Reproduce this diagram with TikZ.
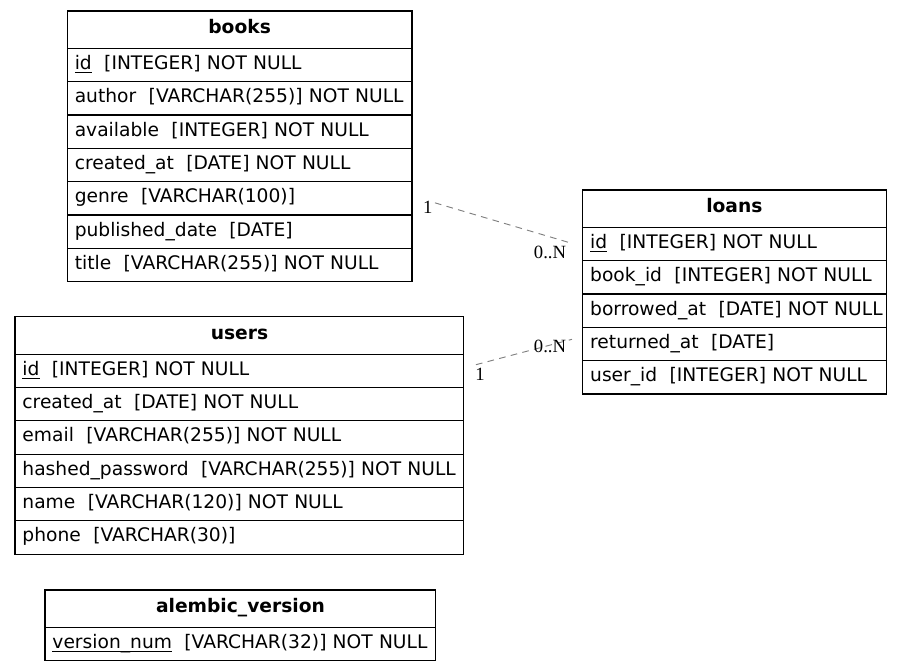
\documentclass[tikz,border=0pt]{standalone}
\usepackage{fontspec}
\setmainfont{DejaVu Sans}
\newfontfamily\cardfont{Liberation Serif}
\usepackage{tikz}
\usetikzlibrary{positioning, calc}

% primary key: underlined column name
\newcommand{\pk}[1]{\setbox0\hbox{#1}\rlap{\rule[-2.6pt]{\wd0}{0.7pt}}#1}
% one column line: name, two spaces, type
\newcommand{\fld}[2]{\mbox{#1~~#2}}

\begin{document}
\begin{tikzpicture}[x=0.75pt, y=-0.75pt,
    tbl/.style={draw=black, line width=0.8pt, text width=#1, inner xsep=5.6pt, inner ysep=0pt, outer sep=0pt,
                minimum height=25pt, text height=10pt, text depth=3.5pt, align=left,
                font=\fontsize{14}{16}\selectfont},
    hdr/.style={tbl=#1, minimum height=28pt, text depth=4.5pt, align=center, anchor=north west,
                font=\fontsize{14}{16}\selectfont\bfseries},
    rel/.style={draw=gray, dash pattern=on 5pt off 4pt, line width=0.7pt},
    card/.style={inner sep=0pt, font=\cardfont\fontsize{14}{16}\selectfont}]

    \useasboundingbox (0,0) rectangle (903,671);

    % --- TABLES ---
    % books (top left)
    \node[hdr=247.3pt] (books) at (67.3,11) {books};
    \node[tbl=247.3pt, below=0pt of books]     (books-id)    {\fld{\pk{id}}{[INTEGER] NOT NULL}};
    \node[tbl=247.3pt, below=0pt of books-id]  (books-auth)  {\fld{author}{[VARCHAR(255)] NOT NULL}};
    \node[tbl=247.3pt, below=0pt of books-auth](books-avail) {\fld{available}{[INTEGER] NOT NULL}};
    \node[tbl=247.3pt, below=0pt of books-avail](books-cre)  {\fld{created\_at}{[DATE] NOT NULL}};
    \node[tbl=247.3pt, below=0pt of books-cre] (books-genre) {\fld{genre}{[VARCHAR(100)]}};
    \node[tbl=247.3pt, below=0pt of books-genre](books-pub)  {\fld{published\_date}{[DATE]}};
    \node[tbl=247.3pt, below=0pt of books-pub] (books-title) {\fld{title}{[VARCHAR(255)] NOT NULL}};

    % loans (right)
    \node[hdr=216.3pt] (loans) at (582.7,190) {loans};
    \node[tbl=216.3pt, below=0pt of loans]     (loans-id)   {\fld{\pk{id}}{[INTEGER] NOT NULL}};
    \node[tbl=216.3pt, below=0pt of loans-id]  (loans-book) {\fld{book\_id}{[INTEGER] NOT NULL}};
    \node[tbl=216.3pt, below=0pt of loans-book](loans-bor)  {\fld{borrowed\_at}{[DATE] NOT NULL}};
    \node[tbl=216.3pt, below=0pt of loans-bor] (loans-ret)  {\fld{returned\_at}{[DATE]}};
    \node[tbl=216.3pt, below=0pt of loans-ret] (loans-user) {\fld{user\_id}{[INTEGER] NOT NULL}};

    % users (middle left)
    \node[hdr=325.5pt] (users) at (15,316.7) {users};
    \node[tbl=325.5pt, below=0pt of users]      (users-id)    {\fld{\pk{id}}{[INTEGER] NOT NULL}};
    \node[tbl=325.5pt, below=0pt of users-id]   (users-cre)   {\fld{created\_at}{[DATE] NOT NULL}};
    \node[tbl=325.5pt, below=0pt of users-cre]  (users-mail)  {\fld{email}{[VARCHAR(255)] NOT NULL}};
    \node[tbl=325.5pt, below=0pt of users-mail] (users-pw)    {\fld{hashed\_password}{[VARCHAR(255)] NOT NULL}};
    \node[tbl=325.5pt, below=0pt of users-pw]   (users-name)  {\fld{name}{[VARCHAR(120)] NOT NULL}};
    \node[tbl=325.5pt, below=0pt of users-name] (users-phone) {\fld{phone}{[VARCHAR(30)]}};

    % alembic_version (bottom)
    \node[hdr=282pt] (alembic) at (45,590) {alembic\_version};
    \node[tbl=282pt, below=0pt of alembic] (alembic-num) {\fld{\pk{version\_num}}{[VARCHAR(32)] NOT NULL}};

    % --- RELATIONS ---
    \coordinate (t1) at ($(books-genre.east)+(23,4.5)$);
    \coordinate (h1) at ($(loans-id.west)+(-12.7,-1.2)$);
    \coordinate (t2) at ($(users-id.east)+(12,-6)$);
    \coordinate (h2) at ($(loans-ret.west)+(-10.7,-4.7)$);

    \draw[rel] (t1) -- (h1);
    \draw[rel] (t2) -- (h2);

    \node[card] (c1) at ($(t1)+(-7.2,4.8)$) {1};
    \node[card] (n1) at ($(h1)+(-20,9.2)$) {0..N};
    \node[card] (c2) at ($(t2)+(4,10)$) {1};
    \node[card] (n2) at ($(h2)+(-22,6.8)$) {0..N};

\end{tikzpicture}
\end{document}
